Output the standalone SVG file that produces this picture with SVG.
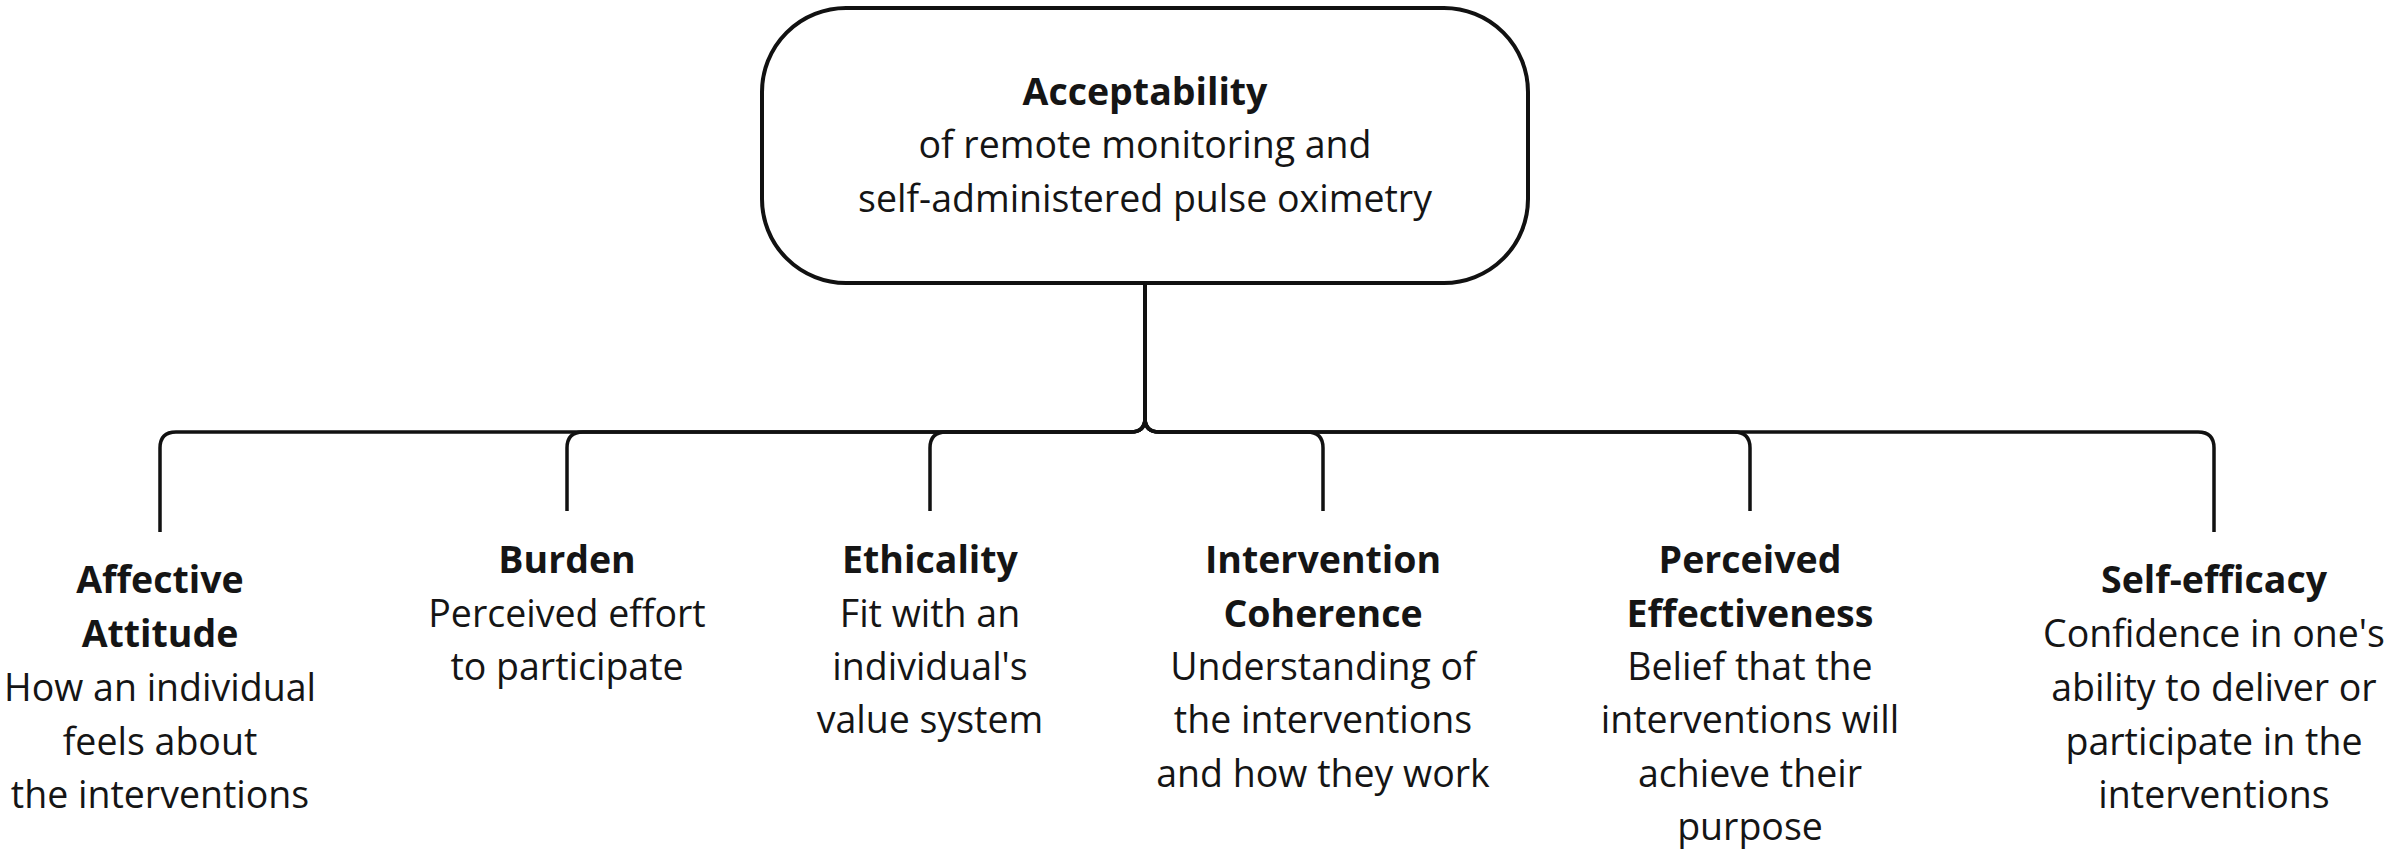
<svg xmlns="http://www.w3.org/2000/svg" width="2392" height="857" viewBox="0 0 2392 857">
<style>
.t{font-family:"Open Sans","Liberation Sans",sans-serif;font-size:37.5px;font-weight:400;fill:#151515;text-anchor:middle}
.b{font-weight:700}
.c{fill:none;stroke:#111;stroke-width:3.5;stroke-linecap:butt;stroke-linejoin:round}
</style>
<rect width="2392" height="857" fill="#fff"/>
<g id="root">
<rect x="762" y="8" width="766" height="275" rx="84" ry="84" fill="#fff" stroke="#111" stroke-width="4"/>
<text class="t b" x="1145" y="105">Acceptability</text>
<text class="t" x="1145" y="158">of remote monitoring and</text>
<text class="t" x="1145" y="212">self-administered pulse oximetry</text>
</g>
<g id="connectors">
<path class="c" d="M1145 283 V418 Q1145 432 1131 432 H176 Q160 432 160 448 V532"/>
<path class="c" d="M1145 283 V418 Q1145 432 1131 432 H583 Q567 432 567 448 V511"/>
<path class="c" d="M1145 283 V418 Q1145 432 1131 432 H946 Q930 432 930 448 V511"/>
<path class="c" d="M1145 283 V418 Q1145 432 1159 432 H1307 Q1323 432 1323 448 V511"/>
<path class="c" d="M1145 283 V418 Q1145 432 1159 432 H1734 Q1750 432 1750 448 V511"/>
<path class="c" d="M1145 283 V418 Q1145 432 1159 432 H2198 Q2214 432 2214 448 V532"/>
</g>
<g id="affective">
<text class="t b" x="160" y="593">Affective</text>
<text class="t b" x="160" y="647">Attitude</text>
<text class="t" x="160" y="701">How an individual</text>
<text class="t" x="160" y="755">feels about</text>
<text class="t" x="160" y="808">the interventions</text>
</g>
<g id="burden">
<text class="t b" x="567" y="573">Burden</text>
<text class="t" x="567" y="627">Perceived effort</text>
<text class="t" x="567" y="680">to participate</text>
</g>
<g id="ethicality">
<text class="t b" x="930" y="573">Ethicality</text>
<text class="t" x="930" y="627">Fit with an</text>
<text class="t" x="930" y="680">individual's</text>
<text class="t" x="930" y="733">value system</text>
</g>
<g id="coherence">
<text class="t b" x="1323" y="573">Intervention</text>
<text class="t b" x="1323" y="627">Coherence</text>
<text class="t" x="1323" y="680">Understanding of</text>
<text class="t" x="1323" y="733">the interventions</text>
<text class="t" x="1323" y="787">and how they work</text>
</g>
<g id="effectiveness">
<text class="t b" x="1750" y="573">Perceived</text>
<text class="t b" x="1750" y="627">Effectiveness</text>
<text class="t" x="1750" y="680">Belief that the</text>
<text class="t" x="1750" y="733">interventions will</text>
<text class="t" x="1750" y="787">achieve their</text>
<text class="t" x="1750" y="840">purpose</text>
</g>
<g id="selfefficacy">
<text class="t b" x="2214" y="593">Self-efficacy</text>
<text class="t" x="2214" y="647">Confidence in one's</text>
<text class="t" x="2214" y="701">ability to deliver or</text>
<text class="t" x="2214" y="755">participate in the</text>
<text class="t" x="2214" y="808">interventions</text>
</g>
</svg>
